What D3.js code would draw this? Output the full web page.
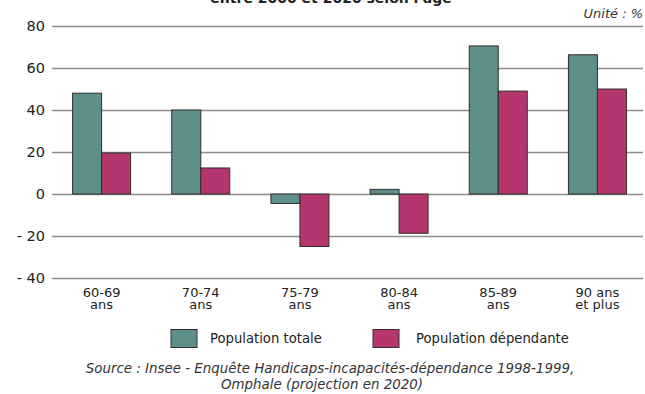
<!DOCTYPE html>
<html>
<head>
<meta charset="utf-8">
<script src="https://cdn.jsdelivr.net/npm/d3@7/dist/d3.min.js"></script>
<style>
  html, body { margin: 0; padding: 0; background: #fff; }
  svg { display: block; font-family: "DejaVu Sans", Verdana, sans-serif; }
</style>
</head>
<body>
<svg id="chart" width="645" height="394"></svg>
<script>
// Age groups (two-line labels)
const categories = ["60-69\nans", "70-74\nans", "75-79\nans", "80-84\nans", "85-89\nans", "90 ans\net plus"];
// Change 2000-2020, in %
const totalPop = [48, 40, -4.5, 2.2, 70.5, 66.3];
const dependentPop = [19.5, 12.4, -25, -18.7, 49, 50];
const seriesNames = ["Population totale", "Population dépendante"];
const yTicks = [-40, -20, 0, 20, 40, 60, 80];

const colors = ["#5f8f8b", "#b5366f"];
const textColor = "#222";

const svg = d3.select("#chart");

const plot = { left: 52, right: 647, top: 26, bottom: 278 };

const x = d3.scaleBand()
  .domain(categories)
  .range([plot.left, plot.right])
  .paddingInner(0.415)
  .paddingOuter(0.2075);

const xInner = d3.scaleBand()
  .domain([0, 1])
  .range([0, x.bandwidth()]);

const y = d3.scaleLinear()
  .domain([-40, 80])
  .range([plot.bottom, plot.top]);

// Title (continuation line, runs off the top edge)
svg.append("text")
  .attr("x", 331)
  .attr("y", 2.5)
  .attr("text-anchor", "middle")
  .attr("font-size", 14)
  .attr("font-weight", "bold")
  .attr("fill", textColor)
  .text("entre 2000 et 2020 selon l'âge");

svg.append("text")
  .attr("x", 643)
  .attr("y", 18)
  .attr("text-anchor", "end")
  .attr("font-size", 13)
  .attr("font-style", "italic")
  .attr("fill", "#333")
  .text("Unité : %");

// Y axis: gridlines and labels
const yAxis = d3.axisLeft(y)
  .tickValues(yTicks)
  .tickSize(-(643 - plot.left))
  .tickPadding(7)
  .tickFormat(d => d < 0 ? "- " + Math.abs(d) : String(d));

const gy = svg.append("g")
  .attr("transform", `translate(${plot.left},0)`)
  .call(yAxis);
gy.select(".domain").remove();
gy.selectAll(".tick line")
  .attr("stroke", "#8c8c8c")
  .attr("stroke-width", 1.6);
gy.selectAll(".tick text")
  .attr("font-size", 14.5)
  .attr("fill", textColor)
  .attr("font-family", "DejaVu Sans, Verdana, sans-serif");

// Bars
const series = [totalPop, dependentPop];
series.forEach((vals, si) => {
  svg.append("g")
    .selectAll("rect")
    .data(vals)
    .join("rect")
    .attr("x", (d, i) => x(categories[i]) + xInner(si))
    .attr("width", xInner.bandwidth())
    .attr("y", d => y(Math.max(0, d)))
    .attr("height", d => Math.abs(y(d) - y(0)))
    .attr("fill", colors[si])
    .attr("stroke", "#2e2e2e")
    .attr("stroke-width", 1);
});

// Category labels
const xAxis = svg.append("g");
categories.forEach(c => {
  const lines = c.split("\n");
  const t = xAxis.append("text")
    .attr("x", x(c) + x.bandwidth() / 2)
    .attr("y", 297)
    .attr("text-anchor", "middle")
    .attr("font-size", 13)
    .attr("fill", textColor);
  lines.forEach((l, i) => {
    t.append("tspan")
      .attr("x", x(c) + x.bandwidth() / 2)
      .attr("dy", i === 0 ? 0 : 12)
      .text(l);
  });
});

// Legend
const legendItems = [
  { box: 171, text: 210 },
  { box: 373, text: 416 }
];
legendItems.forEach((it, i) => {
  svg.append("rect")
    .attr("x", it.box)
    .attr("y", 329.5)
    .attr("width", 26)
    .attr("height", 18)
    .attr("fill", colors[i])
    .attr("stroke", "#2e2e2e")
    .attr("stroke-width", 1);
  svg.append("text")
    .attr("x", it.text)
    .attr("y", 343)
    .attr("font-size", 13.2)
    .attr("fill", textColor)
    .text(seriesNames[i]);
});

// Source note
const src = svg.append("text")
  .attr("text-anchor", "middle")
  .attr("font-size", 13.4)
  .attr("font-style", "italic")
  .attr("fill", "#333");
src.append("tspan").attr("x", 330).attr("y", 373)
  .text("Source : Insee - Enquête Handicaps-incapacités-dépendance 1998-1999,");
src.append("tspan").attr("x", 322).attr("y", 389)
  .text("Omphale (projection en 2020)");
</script>
</body>
</html>
